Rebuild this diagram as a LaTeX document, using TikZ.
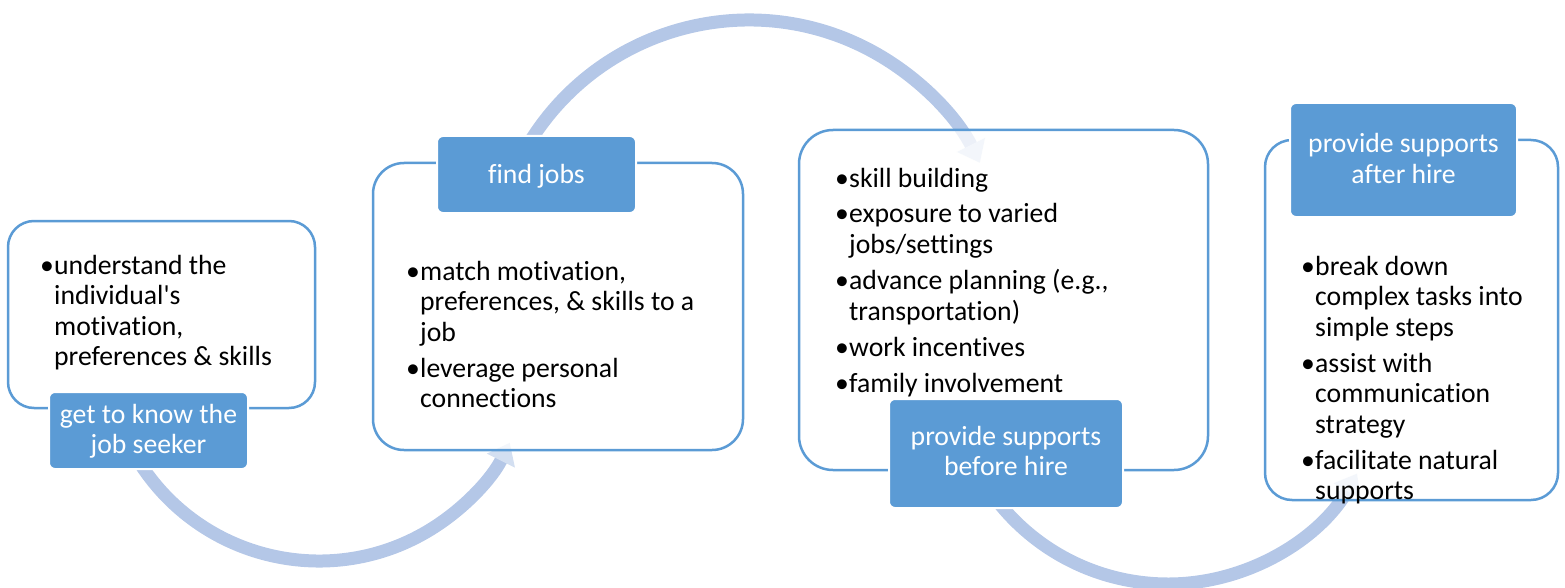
\documentclass[tikz,border=0pt]{standalone}
\usepackage{fontspec}
\newfontfamily\cf[Ligatures={NoCommon,NoContextual}]{Carlito}
\usetikzlibrary{arrows.meta}
\definecolor{accent}{HTML}{5B9BD5}
\definecolor{flowc}{HTML}{B4C7E7}
\definecolor{tipc}{HTML}{D3DFF1}
\newcommand\bu{\makebox[14pt][l]{•}}
\newcommand\ct{\hspace*{14pt}}
\tikzset{
  box/.style={draw=accent, line width=2.5pt, fill=white, fill opacity=0.75, draw opacity=1, inner sep=0, minimum width=#1},
  lab/.style={draw=white, line width=2pt, fill=accent, rounded corners=6pt, inner sep=0},
  txt/.style={anchor=base west, inner sep=0, font=\cf\fontsize{27.7}{30.5}\selectfont},
  labtxt/.style={anchor=base, inner sep=0, text=white, font=\cf\fontsize{27.7}{30.5}\selectfont},
  flow/.style={draw=flowc, line width=13pt, -{Triangle[width=30pt,length=20pt,color=tipc]}}
}
\begin{document}
\begin{tikzpicture}[x=1pt,y=-1pt]
\useasboundingbox (0,0) rectangle (1565,588);
% arc centres
\coordinate (c1) at (319,348);
\coordinate (c2) at (749,278);
\coordinate (c3) at (1168,367);
% flow arrows
\draw[flow] (c1) ++(-212:213) arc[start angle=-212, end angle=-333.6, radius=213];
\draw[flow] (c2) ++(-150:258) arc[start angle=-150, end angle=-26.5, radius=258];
\draw[flow] (c3) ++(-218:217) arc[start angle=-218, end angle=-330.6, radius=217];
% content boxes
\node[box=307pt, minimum height=187pt, rounded corners=26pt] (b1) at (161.5,314.5) {};
\node[box=370pt, minimum height=287pt, rounded corners=31pt] (b2) at (558,306.5) {};
\node[box=409pt, minimum height=340pt, rounded corners=34pt] (b3) at (1003.5,300) {};
\node[box=293pt, minimum height=360pt, rounded corners=27pt] (b4) at (1411.5,320) {};
% texts
\node[txt] (t1) at (40,274) {\begin{tabular}[t]{@{}l@{}}
\bu understand the\\ \ct individual's\\ \ct motivation,\\ \ct preferences \& skills\end{tabular}};
\node[txt] (t2) at (406,280) {\begin{tabular}[t]{@{}l@{}}
\bu match motivation,\\ \ct preferences, \& skills to a\\ \ct job\\[5.5pt]
\bu leverage personal\\ \ct connections\end{tabular}};
\node[txt] (t3) at (835,187) {\begin{tabular}[t]{@{}l@{}}
\bu skill building\\[5.5pt]
\bu exposure to varied\\ \ct jobs/settings\\[5.5pt]
\bu advance planning (e.g.,\\ \ct transportation)\\[5.5pt]
\bu work incentives\\[5.5pt]
\bu family involvement\end{tabular}};
\node[txt] (t4) at (1301,275) {\begin{tabular}[t]{@{}l@{}}
\bu break down\\ \ct complex tasks into\\ \ct simple steps\\[5.5pt]
\bu assist with\\ \ct communication\\ \ct strategy\\[5.5pt]
\bu facilitate natural\\ \ct supports\end{tabular}};
% labels
\node[lab, minimum width=199pt, minimum height=77pt] (l1) at (148.5,430.5) {};
\node[lab, minimum width=199pt, minimum height=77pt] (l2) at (536.5,174.5) {};
\node[lab, minimum width=234pt, minimum height=109pt] (l3) at (1006,453.5) {};
\node[lab, minimum width=227pt, minimum height=114pt] (l4) at (1403.5,160) {};
\node[labtxt] (lt1) at (148.5,423) {\begin{tabular}[t]{@{}c@{}}get to know the\\ job seeker\end{tabular}};
\node[labtxt] (lt2) at (536.5,183) {find jobs};
\node[labtxt] (lt3) at (1006,445) {\begin{tabular}[t]{@{}c@{}}provide supports\\ before hire\end{tabular}};
\node[labtxt] (lt4) at (1403.5,153) {\begin{tabular}[t]{@{}c@{}}provide supports\\ after hire\end{tabular}};
\end{tikzpicture}
\end{document}
